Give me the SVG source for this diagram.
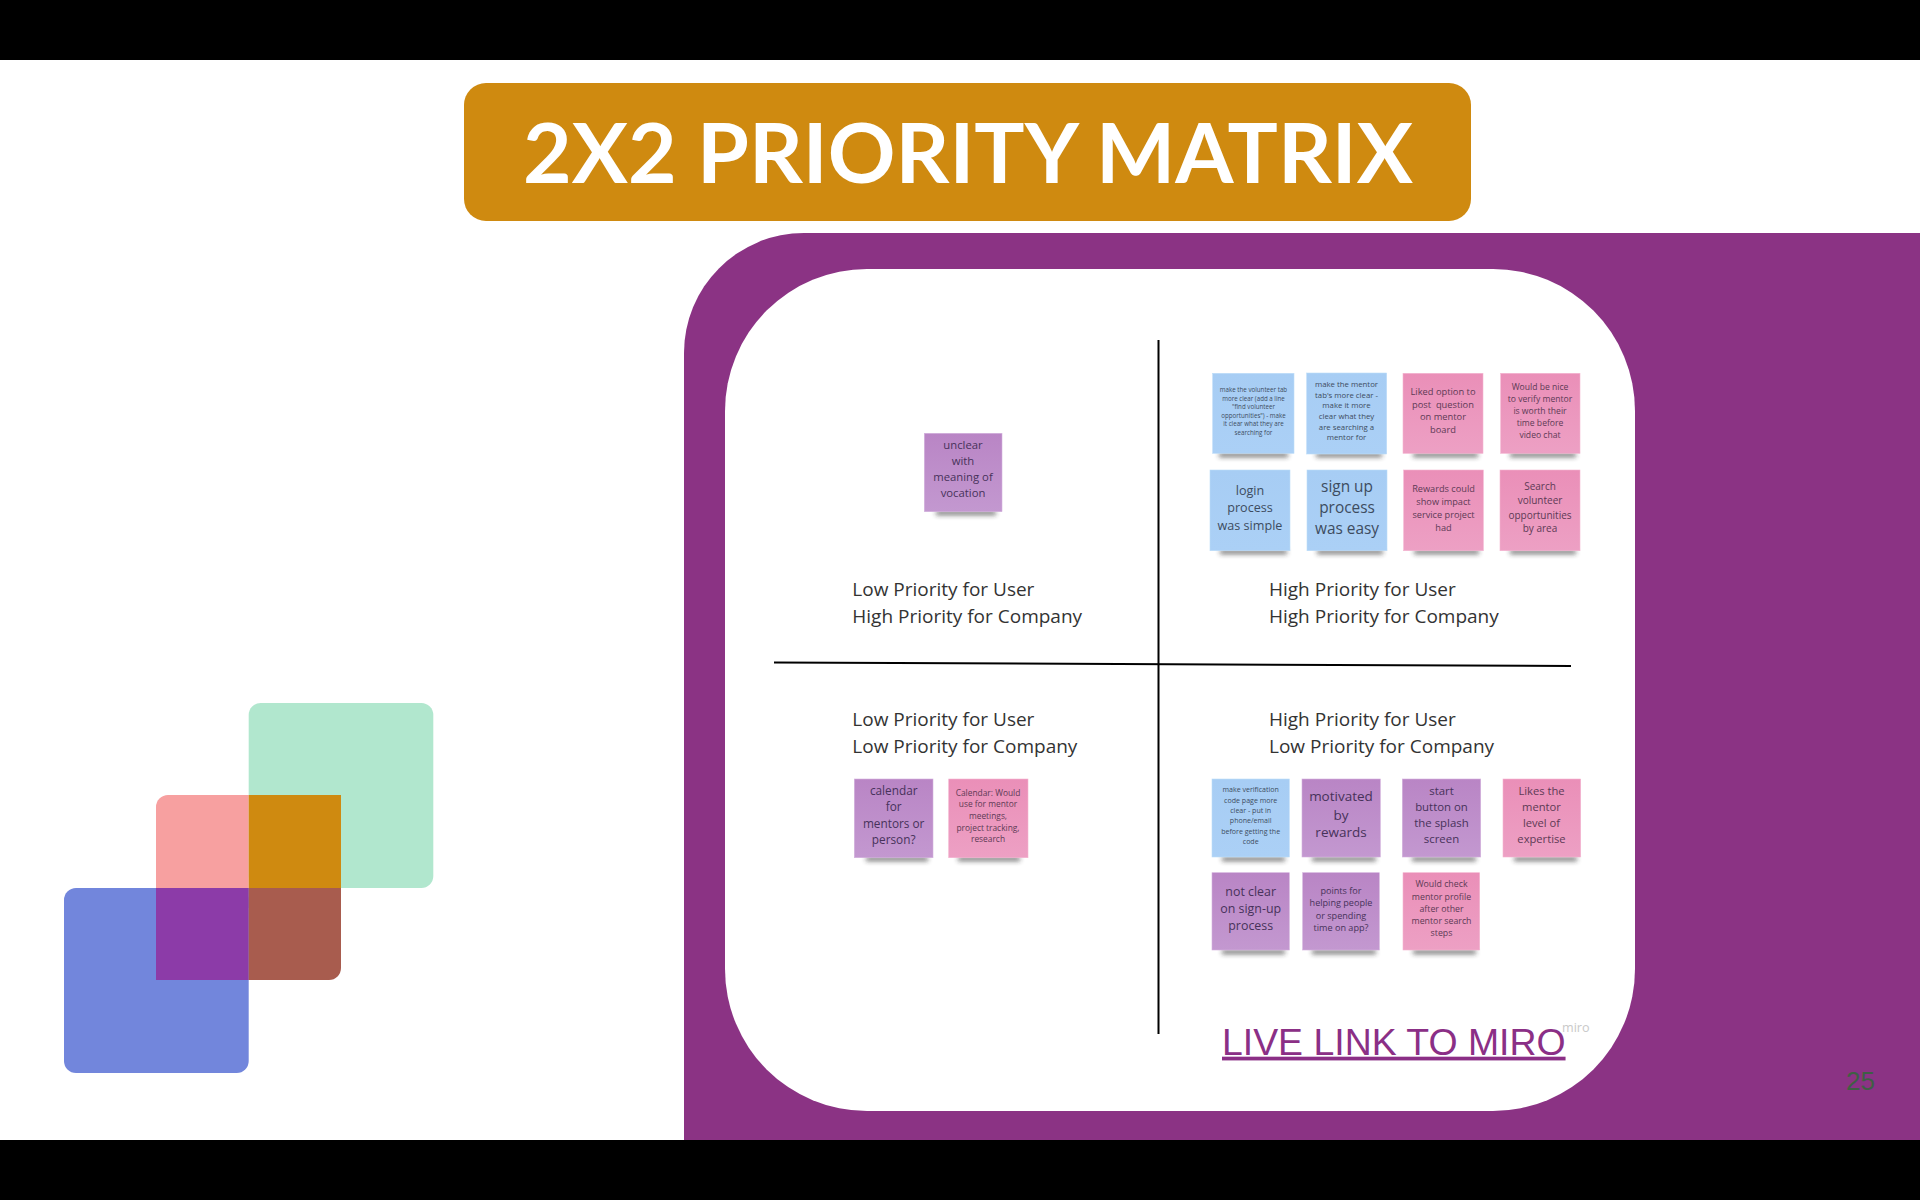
<svg xmlns="http://www.w3.org/2000/svg" width="1920" height="1200" viewBox="0 0 1920 1200">
<style>
text{font-family:"Open Sans","Noto Sans",sans-serif}
.n text{text-anchor:middle;white-space:pre}
.note{stroke-width:.6}
.blue .note{fill:url(#gb);stroke:#bcdcf8}
.pink .note{fill:url(#gp);stroke:#f3b5d0}
.purp .note{fill:url(#gv);stroke:#d3b1dd}
.blue text{fill:#3d4c60}
.pink text{fill:#5d3a55}
.purp text{fill:#47325a}
.sh{fill:#2b2b2b;opacity:.7;filter:url(#blur)}
.q{font-size:19px;fill:#333}
.ax{stroke:#000;stroke-width:2;fill:none}
</style>
<defs>
<filter id="blur" x="-20%" y="-300%" width="140%" height="700%"><feGaussianBlur stdDeviation="2.6"/></filter>
<linearGradient id="gb" x1="0" y1="0" x2="0" y2="1"><stop offset="0" stop-color="#a7cdf4"/><stop offset="1" stop-color="#abd0f6"/></linearGradient>
<linearGradient id="gp" x1="0" y1="0" x2="0" y2="1"><stop offset="0" stop-color="#ea8fb8"/><stop offset="1" stop-color="#eda0c4"/></linearGradient>
<linearGradient id="gv" x1="0" y1="0" x2="0" y2="1"><stop offset="0" stop-color="#b985c5"/><stop offset="1" stop-color="#c398d0"/></linearGradient>
</defs>
<rect width="1920" height="1200" fill="#fff"/>
<rect width="1920" height="60" fill="#000"/>
<rect y="1140" width="1920" height="60" fill="#000"/>
<path id="panel" d="M1920 233H804A120 120 0 0 0 684 353V1140H1920Z" fill="#8b3384"/>
<rect id="board" x="725" y="269" width="910" height="842" rx="142" fill="#fff"/>
<g id="title"><rect x="464" y="83" width="1007" height="138" rx="22" fill="#cf8a10"/>
<text x="968" y="183" text-anchor="middle" font-size="83" font-weight="700" fill="#fff" style="font-family:Lato,'Open Sans',sans-serif" textLength="890" lengthAdjust="spacingAndGlyphs">2X2 PRIORITY MATRIX</text></g>
<g id="logo">
<rect x="248.7" y="703" width="184.6" height="185" rx="12" fill="#b1e7ce"/>
<path d="M168 795H248.7V888H156V807A12 12 0 0 1 168 795Z" fill="#f7a0a0"/>
<rect x="248.7" y="795" width="92.3" height="93" fill="#cf8a10"/>
<rect x="64" y="888" width="184.7" height="185" rx="12" fill="#7286dc"/>
<rect x="236" y="888" width="12.7" height="20" fill="#7286dc"/>
<rect x="156" y="888" width="92.7" height="92" fill="#8c3ba8"/>
<path d="M248.7 888H341V968A12 12 0 0 1 329 980H248.7Z" fill="#a85c4e"/>
</g>
<g id="connectors">
<path class="ax" d="M1158.5 340V1034"/>
<path class="ax" d="M774 662.500L1571 666"/>
</g>
<g id="labels">
<text class="q" id="ql1" x="852.3" y="596"><tspan x="852.3">Low Priority for User</tspan><tspan x="852.3" y="622.7">High Priority for Company</tspan></text>
<text class="q" id="ql2" x="1269" y="596"><tspan x="1269">High Priority for User</tspan><tspan x="1269" y="622.7">High Priority for Company</tspan></text>
<text class="q" id="ql3" x="852.3" y="726"><tspan x="852.3">Low Priority for User</tspan><tspan x="852.3" y="752.7">Low Priority for Company</tspan></text>
<text class="q" id="ql4" x="1269" y="726"><tspan x="1269">High Priority for User</tspan><tspan x="1269" y="752.7">Low Priority for Company</tspan></text>
</g>
<g id="n-vocation" class="n purp"><rect class="sh" x="936" y="511" width="60" height="4"/><rect class="note" x="924.3" y="433.3" width="77.7" height="78.4"/>
<text font-size="11.3"><tspan x="963" y="449">unclear</tspan><tspan x="963" y="465.3">with</tspan><tspan x="963" y="481.3">meaning of</tspan><tspan x="963" y="497.3">vocation</tspan></text></g>
<g id="n-vol-tab" class="n blue"><rect class="sh" x="1219" y="453" width="69" height="4"/><rect class="note" x="1212.7" y="373.3" width="81.3" height="80"/>
<text font-size="6.2"><tspan x="1253.5" y="392">make the volunteer tab</tspan><tspan x="1253.5" y="400.5">more clear (add a line</tspan><tspan x="1253.5" y="409">"find volunteer</tspan><tspan x="1253.5" y="417.7">opportunities") - make</tspan><tspan x="1253.5" y="426">it clear what they are</tspan><tspan x="1253.5" y="434.7">searching for</tspan></text></g>
<g id="n-men-tab" class="n blue"><rect class="sh" x="1316" y="453" width="66" height="4"/><rect class="note" x="1306.7" y="373" width="80" height="81"/>
<text font-size="7.8"><tspan x="1346.5" y="387">make the mentor</tspan><tspan x="1346.5" y="397.5">tab's more clear -</tspan><tspan x="1346.5" y="408.2">make it more</tspan><tspan x="1346.5" y="418.9">clear what they</tspan><tspan x="1346.5" y="429.5">are searching a</tspan><tspan x="1346.5" y="440.2">mentor for</tspan></text></g>
<g id="n-liked" class="n pink"><rect class="sh" x="1413" y="453" width="65" height="4"/><rect class="note" x="1403" y="373.3" width="80" height="80"/>
<text font-size="9.3"><tspan x="1443" y="395.3">Liked option to</tspan><tspan x="1443" y="408">post  question</tspan><tspan x="1443" y="420.3">on mentor</tspan><tspan x="1443" y="433.3">board</tspan></text></g>
<g id="n-verify" class="n pink"><rect class="sh" x="1510" y="453" width="66" height="4"/><rect class="note" x="1500.7" y="373.3" width="79.3" height="80"/>
<text font-size="8.6"><tspan x="1540" y="389.5">Would be nice</tspan><tspan x="1540" y="401.8">to verify mentor</tspan><tspan x="1540" y="413.8">is worth their</tspan><tspan x="1540" y="425.5">time before</tspan><tspan x="1540" y="437.5">video chat</tspan></text></g>
<g id="n-login" class="n blue"><rect class="sh" x="1220" y="550" width="67" height="4"/><rect class="note" x="1210" y="470" width="80" height="80.7"/>
<text font-size="12.6"><tspan x="1250" y="494.8">login</tspan><tspan x="1250" y="512.1">process</tspan><tspan x="1250" y="529.5">was simple</tspan></text></g>
<g id="n-signup" class="n blue"><rect class="sh" x="1317" y="550" width="66" height="4"/><rect class="note" x="1307" y="470" width="80" height="80.7"/>
<text font-size="15.4"><tspan x="1347" y="491.7">sign up</tspan><tspan x="1347" y="513.1">process</tspan><tspan x="1347" y="533.7">was easy</tspan></text></g>
<g id="n-rewards" class="n pink"><rect class="sh" x="1414" y="550" width="65" height="4"/><rect class="note" x="1403.7" y="470" width="79.6" height="80.7"/>
<text font-size="9.2"><tspan x="1443.5" y="491.6">Rewards could</tspan><tspan x="1443.5" y="504.9">show impact</tspan><tspan x="1443.5" y="517.9">service project</tspan><tspan x="1443.5" y="530.6">had</tspan></text></g>
<g id="n-search" class="n pink"><rect class="sh" x="1510" y="550" width="66" height="4"/><rect class="note" x="1500" y="470" width="80" height="80.7"/>
<text font-size="10"><tspan x="1540" y="490.4">Search</tspan><tspan x="1540" y="504.4">volunteer</tspan><tspan x="1540" y="518.8">opportunities</tspan><tspan x="1540" y="532.4">by area</tspan></text></g>
<g id="n-calendar" class="n purp"><rect class="sh" x="866" y="857" width="62" height="4"/><rect class="note" x="854.3" y="779" width="78.7" height="78.7"/>
<text font-size="11.8"><tspan x="893.7" y="795">calendar</tspan><tspan x="893.7" y="811.3">for</tspan><tspan x="893.7" y="827.6">mentors or</tspan><tspan x="893.7" y="843.6">person?</tspan></text></g>
<g id="n-calendar2" class="n pink"><rect class="sh" x="958" y="857" width="62" height="4"/><rect class="note" x="948.7" y="779" width="79.3" height="78.7"/>
<text font-size="8.4"><tspan x="988" y="795.5">Calendar: Would</tspan><tspan x="988" y="807.2">use for mentor</tspan><tspan x="988" y="818.8">meetings,</tspan><tspan x="988" y="830.5">project tracking,</tspan><tspan x="988" y="841.8">research</tspan></text></g>
<g id="n-verif-code" class="n blue"><rect class="sh" x="1222" y="857" width="63" height="4"/><rect class="note" x="1212" y="779" width="77.3" height="78"/>
<text font-size="7.05"><tspan x="1250.7" y="792.3">make verification</tspan><tspan x="1250.7" y="803">code page more</tspan><tspan x="1250.7" y="813">clear - put in</tspan><tspan x="1250.7" y="823.3">phone/email</tspan><tspan x="1250.7" y="834">before getting the</tspan><tspan x="1250.7" y="844">code</tspan></text></g>
<g id="n-motivated" class="n purp"><rect class="sh" x="1312" y="857" width="64" height="4"/><rect class="note" x="1302" y="779" width="78.3" height="78"/>
<text font-size="13.5"><tspan x="1341" y="801.4">motivated</tspan><tspan x="1341" y="819.6">by</tspan><tspan x="1341" y="837.2">rewards</tspan></text></g>
<g id="n-start" class="n purp"><rect class="sh" x="1412" y="857" width="64" height="4"/><rect class="note" x="1402.3" y="779" width="78.4" height="78"/>
<text font-size="11.4"><tspan x="1441.5" y="795.4">start</tspan><tspan x="1441.5" y="811.1">button on</tspan><tspan x="1441.5" y="827.1">the splash</tspan><tspan x="1441.5" y="842.7">screen</tspan></text></g>
<g id="n-likes" class="n pink"><rect class="sh" x="1514" y="857" width="63" height="4"/><rect class="note" x="1503" y="779" width="77.7" height="78"/>
<text font-size="11.2"><tspan x="1541.5" y="795.4">Likes the</tspan><tspan x="1541.5" y="811.1">mentor</tspan><tspan x="1541.5" y="827.1">level of</tspan><tspan x="1541.5" y="842.7">expertise</tspan></text></g>
<g id="n-notclear" class="n purp"><rect class="sh" x="1222" y="950" width="63" height="4"/><rect class="note" x="1212" y="872.7" width="77.3" height="77.3"/>
<text font-size="12.4"><tspan x="1250.7" y="896.2">not clear</tspan><tspan x="1250.7" y="913.2">on sign-up</tspan><tspan x="1250.7" y="929.5">process</tspan></text></g>
<g id="n-points" class="n purp"><rect class="sh" x="1312" y="950" width="64" height="4"/><rect class="note" x="1302.7" y="872.7" width="76.6" height="77.3"/>
<text font-size="9.1"><tspan x="1341" y="894.2">points for</tspan><tspan x="1341" y="906.2">helping people</tspan><tspan x="1341" y="918.6">or spending</tspan><tspan x="1341" y="930.9">time on app?</tspan></text></g>
<g id="n-check" class="n pink"><rect class="sh" x="1413" y="950" width="63" height="4"/><rect class="note" x="1403" y="872.7" width="76.7" height="77.3"/>
<text font-size="8.8"><tspan x="1441.5" y="887.4">Would check</tspan><tspan x="1441.5" y="900">mentor profile</tspan><tspan x="1441.5" y="912">after other</tspan><tspan x="1441.5" y="924.4">mentor search</tspan><tspan x="1441.5" y="936.4">steps</tspan></text></g>
<text id="link" x="1222" y="1054.7" font-size="37.4" fill="#8b2f86" text-decoration="underline" style="font-family:'Liberation Sans',Arial,sans-serif">LIVE LINK TO MIRO</text>
<text id="miro" x="1562" y="1031.5" font-size="12.6" fill="#c9c9c9" style="font-family:'Open Sans',sans-serif">miro</text>
<text id="page" x="1846" y="1090" font-size="26" fill="#3f5f45" style="font-family:'Liberation Sans',Arial,sans-serif">25</text>
</svg>
